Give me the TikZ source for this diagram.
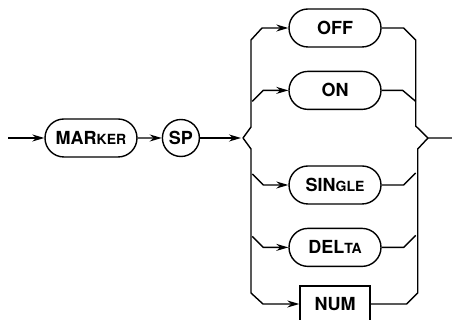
\documentclass[tikz,border=0pt]{standalone}
\usepackage{fontspec}
\setmainfont{TeX Gyre Heros}
\usetikzlibrary{arrows.meta,positioning,shapes.misc}
\tikzset{
  kw/.style={draw, rounded rectangle, line width=1.4pt, inner sep=2pt,
             minimum width=96pt, minimum height=38pt,
             font=\fontsize{18}{18}\selectfont\bfseries},
  kwc/.style={draw, circle, line width=1.4pt, inner sep=1pt,
              minimum size=37pt, font=\fontsize{18}{18}\selectfont\bfseries},
  lit/.style={draw, rectangle, line width=1.4pt, inner sep=2pt,
              minimum width=70pt, minimum height=36pt,
              font=\fontsize{18}{18}\selectfont\bfseries},
  sig/.style={-{Stealth[length=12pt,width=7pt]}, line width=1.4pt},
  bus/.style={line width=1.4pt, line join=round},
}
\newcommand{\smc}[1]{{\fontsize{14}{14}\selectfont #1}}

\begin{document}
\begin{tikzpicture}[x=1pt,y=1pt]
    \useasboundingbox (0,0) rectangle (452,320);
    \node[kw] (marker) at (91,182) {MAR\smc{KER}};
    \node[kwc,right=24pt of marker] (sp) {SP};
    \coordinate (in) at (8,182);
    \coordinate (jl) at (243,182);
    \coordinate (jr) at (428,182);
    \coordinate (out) at (452,182);
    \node[kw] (off) at (335,292) {OFF};
    \node[kw,below=23pt of off] (on) {ON};
    \node[kw] (single) at (335,135) {SIN\smc{GLE}};
    \node[kw,below=23pt of single] (delta) {DEL\smc{TA}};
    \node[lit] (num) at (335,16) {NUM};
    % main line
    \draw[sig] (in) -- (marker);
    \draw[sig] (marker) -- (sp);
    \draw[sig] (sp) -- ([xshift=-2pt]jl);
    % left bus
    \draw[sig] (jl) -- ++(8,11) -- ++(0,87) -- ++(11,12) -- (off.west);
    \draw[sig] ([xshift=-36pt,yshift=-11pt]on.west) -- ++(11,11) -- (on.west);
    \draw[sig] ([xshift=-36pt,yshift=11pt]single.west) -- ++(11,-11)
      -- (single.west);
    \draw[sig] ([xshift=-36pt,yshift=11pt]delta.west) -- ++(11,-11)
      -- (delta.west);
    \draw[sig] (jl) -- ++(8,-11) -- ++(0,-144) -- ++(12,-11) -- (num.west);
    % right bus
    \draw[bus] (off.east) -- ++(22,0) -- ++(12,-12) -- ++(0,-86) -- (jr)
      -- (out);
    \draw[bus] (on.east) -- ++(21,0) -- ++(13,-11);
    \draw[bus] (single.east) -- ++(22,0) -- ++(12,12);
    \draw[bus] (delta.east) -- ++(22,0) -- ++(12,12);
    \draw[bus] (num.east) -- ++(36,0) -- ++(11,11) -- ++(0,144) -- (jr);
  \end{tikzpicture}
\end{document}
